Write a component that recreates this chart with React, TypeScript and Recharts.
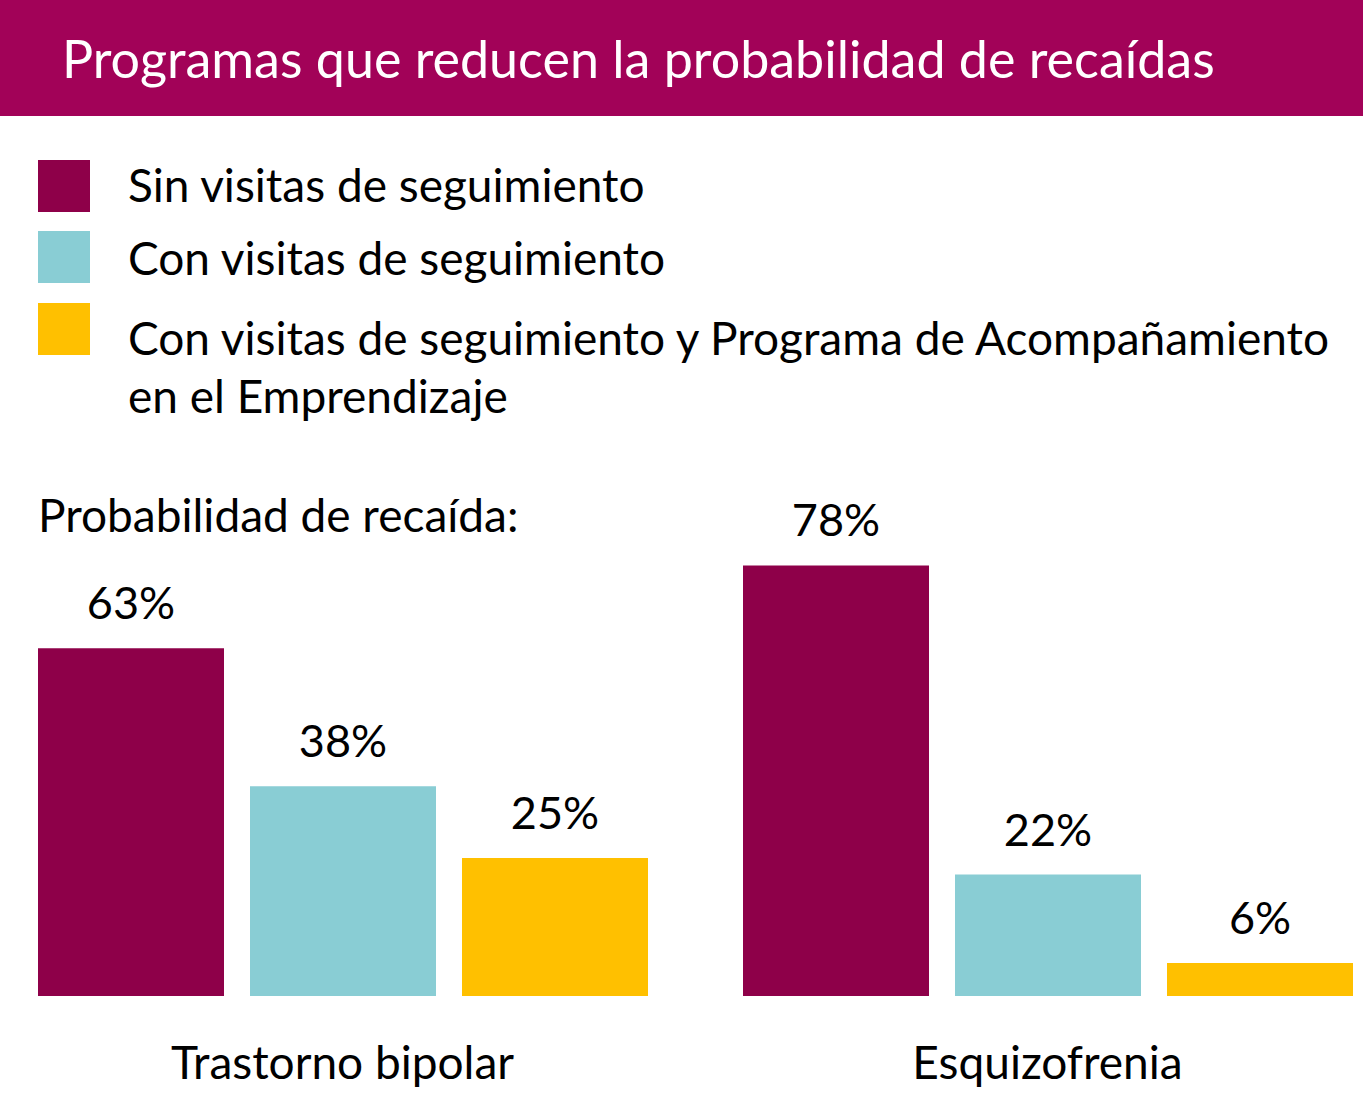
import React from 'react';
import { BarChart, Bar, XAxis, YAxis, Legend, LabelList } from 'recharts';

const categories = ['Trastorno bipolar', 'Esquizofrenia'];
const sinVisitas = [63, 78];
const conVisitas = [38, 22];
const conPrograma = [25, 6];

const seriesNames = [
  'Sin visitas de seguimiento',
  'Con visitas de seguimiento',
  'Con visitas de seguimiento y Programa de Acompañamiento en el Emprendizaje',
];
const COLORS = ['#8E0049', '#89CDD4', '#FFC000'];

const data = categories.map((name, i) => ({
  name,
  sin: sinVisitas[i],
  con: conVisitas[i],
  prog: conPrograma[i],
}));

const FONT = 'Lato, "Open Sans", sans-serif';

// spacing between legend rows, and square offset vs. the first text line
const ROW_GAPS = [15, 22, 0];
const SQUARE_TOP = [4, 2, -6];

const renderLegend = (props: any) => {
  const { payload } = props;
  // keep the series order (recharts sorts legend items by name otherwise)
  const items = [...payload].sort(
    (a: any, b: any) => seriesNames.indexOf(a.value) - seriesNames.indexOf(b.value)
  );
  return (
    <div style={{ display: 'flex', flexDirection: 'column', textAlign: 'left' }}>
      {items.map((entry: any, index: number) => (
        <div
          key={`item-${index}`}
          style={{ display: 'flex', alignItems: 'flex-start', marginBottom: ROW_GAPS[index] }}
        >
          <span
            style={{
              display: 'inline-block',
              width: 52,
              height: 52,
              marginTop: SQUARE_TOP[index],
              marginRight: 38,
              backgroundColor: entry.color,
              flexShrink: 0,
            }}
          />
          <span
            style={{
              fontSize: 46,
              lineHeight: '58px',
              color: '#000',
              maxWidth: 1225,
            }}
          >
            {entry.value}
          </span>
        </div>
      ))}
    </div>
  );
};

const labelStyle = { fill: '#000', fontSize: 45, fontFamily: FONT };

const App: React.FC = () => {
  return (
    <div
      style={{
        position: 'absolute',
        left: 0,
        top: 0,
        width: 1363,
        height: 1099,
        overflow: 'hidden',
        background: '#fff',
        fontFamily: FONT,
      }}
    >
      <div
        style={{
          position: 'absolute',
          left: 0,
          top: 0,
          width: 1363,
          height: 116,
          background: '#A20258',
          display: 'flex',
          alignItems: 'center',
        }}
      >
        <span style={{ color: '#fff', fontSize: 52, marginLeft: 62, whiteSpace: 'nowrap' }}>
          Programas que reducen la probabilidad de recaídas
        </span>
      </div>

      <div
        style={{
          position: 'absolute',
          left: 38,
          top: 487,
          fontSize: 46,
          lineHeight: 1.2,
          color: '#000',
          whiteSpace: 'nowrap',
        }}
      >
        Probabilidad de recaída:
      </div>

      <div style={{ position: 'absolute', left: -10, top: 0 }}>
        <BarChart
          width={1410}
          height={1099}
          data={data}
          margin={{ top: 444, right: 0, bottom: 0, left: 0 }}
          barSize={186}
          barGap={26}
        >
          <XAxis
            dataKey="name"
            axisLine={false}
            tickLine={false}
            tickSize={0}
            tickMargin={50}
            height={103}
            interval={0}
            tick={{ fill: '#000', fontSize: 46, fontFamily: FONT }}
          />
          <YAxis hide type="number" domain={[0, 100]} />
          <Legend
            layout="horizontal"
            verticalAlign="middle"
            align="center"
            wrapperStyle={{ top: 156, left: 48, width: 1350, fontFamily: FONT }}
            content={renderLegend}
          />
          <Bar dataKey="sin" name={seriesNames[0]} fill={COLORS[0]} isAnimationActive={false}>
            <LabelList
              dataKey="sin"
              position="top"
              offset={29}
              formatter={(v: any) => `${v}%`}
              style={labelStyle}
            />
          </Bar>
          <Bar dataKey="con" name={seriesNames[1]} fill={COLORS[1]} isAnimationActive={false}>
            <LabelList
              dataKey="con"
              position="top"
              offset={29}
              formatter={(v: any) => `${v}%`}
              style={labelStyle}
            />
          </Bar>
          <Bar dataKey="prog" name={seriesNames[2]} fill={COLORS[2]} isAnimationActive={false}>
            <LabelList
              dataKey="prog"
              position="top"
              offset={29}
              formatter={(v: any) => `${v}%`}
              style={labelStyle}
            />
          </Bar>
        </BarChart>
      </div>
    </div>
  );
};

export default App;
